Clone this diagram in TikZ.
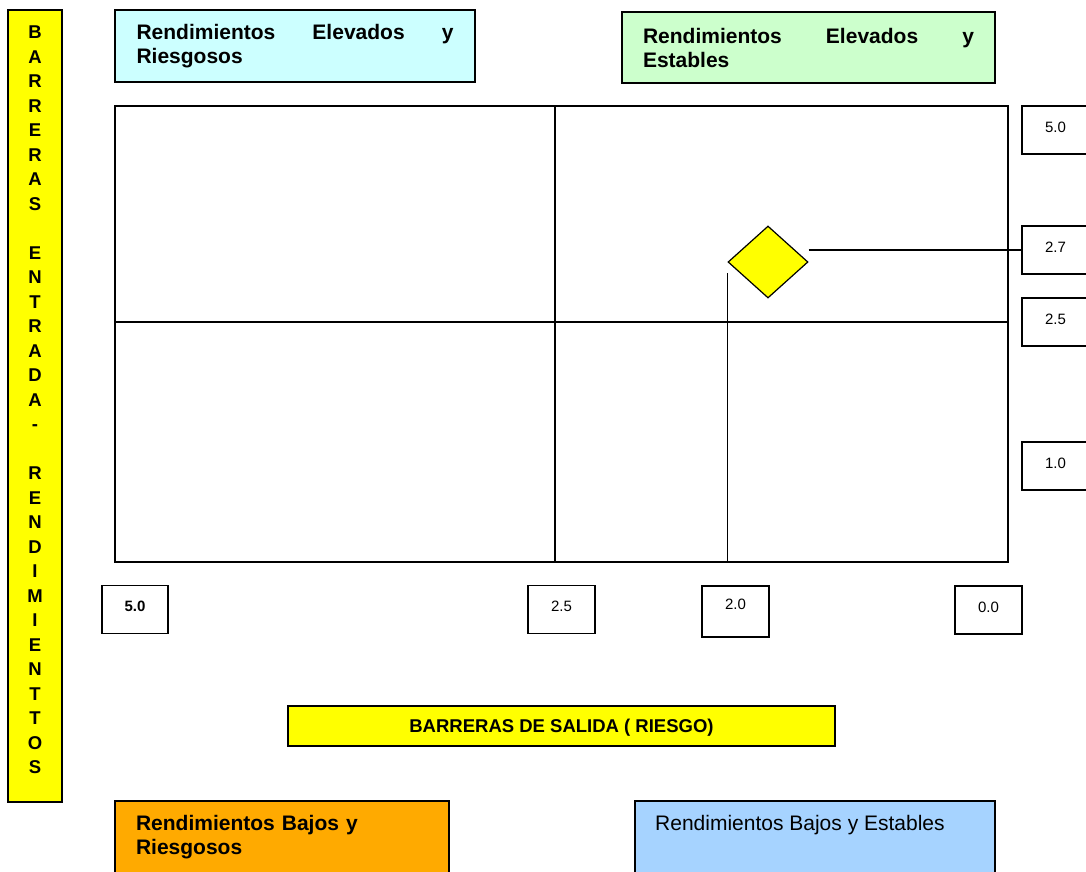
\documentclass[tikz,border=0pt]{standalone}
\usepackage{fontspec}
\setmainfont{Liberation Sans}
\usetikzlibrary{shapes.geometric}

\definecolor{paleCyan}{HTML}{CCFFFF}
\definecolor{paleGreen}{HTML}{CCFFCC}
\definecolor{quadOrange}{HTML}{FFAA00}
\definecolor{quadBlue}{HTML}{A6D3FF}
\definecolor{barYellow}{HTML}{FFFF00}

\tikzset{
  framebox/.style={draw=black, line width=1.5pt, inner sep=0pt},
  quadbox/.style={framebox, font=\fontsize{21}{24}\selectfont},
  numbox/.style={framebox, fill=white, minimum width=67pt, minimum height=48pt,
    text depth=6pt, font=\fontsize{15}{18}\selectfont},
  gridline/.style={line width=1.4pt},
}

\begin{document}
\begin{tikzpicture}[x=1pt,y=-1pt]
  \useasboundingbox (0,0) rectangle (1086,871);
  \clip (0,0) rectangle (1086,871);

  % vertical axis banner
  \node[framebox, fill=barYellow, minimum width=54pt, minimum height=792pt] (entryBar) at (35,406) {};
  \node[align=center, inner sep=0pt, font=\fontsize{18.5}{24.5}\selectfont\bfseries] (entryText) at (35,400)
    {B\\A\\R\\R\\E\\R\\A\\S\\[24.5pt]E\\N\\T\\R\\A\\D\\A\\-\\[24.5pt]R\\E\\N\\D\\I\\M\\I\\E\\N\\T\\T\\O\\S};

  % quadrant captions
  \node[quadbox, fill=paleCyan, minimum width=360pt, minimum height=72pt,
        text width=317pt, align=left, font=\fontsize{21}{24}\selectfont\bfseries] (hiRisk) at (295,46)
    {Rendimientos\hfill Elevados\hfill y\\Riesgosos};
  \node[quadbox, fill=paleGreen, minimum width=373pt, minimum height=71pt,
        text width=331pt, align=left, font=\fontsize{21}{24}\selectfont\bfseries] (hiStable) at (808.5,47.5)
    {Rendimientos\hfill Elevados\hfill y\\Estables};
  \node[quadbox, fill=quadOrange, minimum width=334pt, minimum height=73pt,
        text width=292pt, align=left, font=\fontsize{21}{24}\selectfont\bfseries] (loRisk) at (282,837.5)
    {Rendimientos Bajos y\\Riesgosos};
  \node[quadbox, fill=quadBlue, minimum width=360pt, minimum height=73pt] (loStable) at (815,837.5) {};
  \node[anchor=west, inner sep=0pt, font=\fontsize{21}{24}\selectfont] (loStableText) at (655,825)
    {Rendimientos Bajos y Estables};

  % main matrix
  \node[draw=black, line width=1.5pt, minimum width=893pt, minimum height=456pt, inner sep=0pt] (plot) at (561.5,334) {};
  \coordinate (mid) at (555,322);
  \draw[gridline] (mid |- plot.north) -- (mid |- plot.south);
  \draw[gridline] (mid -| plot.west) -- (mid -| plot.east);

  % position marker
  \node[diamond, draw=black, line width=1.2pt, fill=barYellow, inner sep=0pt,
        minimum width=80pt, minimum height=72pt] (marker) at (768,262) {};

  % scale labels, right side
  \node[numbox] (rFive) at (1055.5,130) {5.0};
  \node[numbox] (rTwoSeven) at (1055.5,250) {2.7};
  \node[numbox] (rTwoFive) at (1055.5,322) {2.5};
  \node[numbox] (rOne) at (1055.5,466) {1.0};

  % scale labels, bottom
  \node[numbox, minimum width=66pt, font=\fontsize{15}{18}\selectfont\bfseries] (bFive) at (135,609.5) {5.0};
  \node[numbox] (bTwoFive) at (561.5,609.5) {2.5};
  \node[numbox, minimum height=51pt, text depth=14pt] (bTwo) at (735.5,611.5) {2.0};
  \node[numbox] (bZero) at (988.5,610) {0.0};

  % marker guide lines
  \draw[gridline] (marker.east |- rTwoSeven.west) -- (rTwoSeven.west);
  \draw[gridline] ([yshift=-11pt]marker.west) -- (marker.west |- plot.south);

  % horizontal axis banner
  \node[framebox, fill=barYellow, minimum width=547pt, minimum height=40pt, text depth=0pt,
        font=\fontsize{18.5}{22}\selectfont\bfseries] (exitBar) at (561.5,726)
    {BARRERAS DE SALIDA ( RIESGO)};
\end{tikzpicture}
\end{document}
